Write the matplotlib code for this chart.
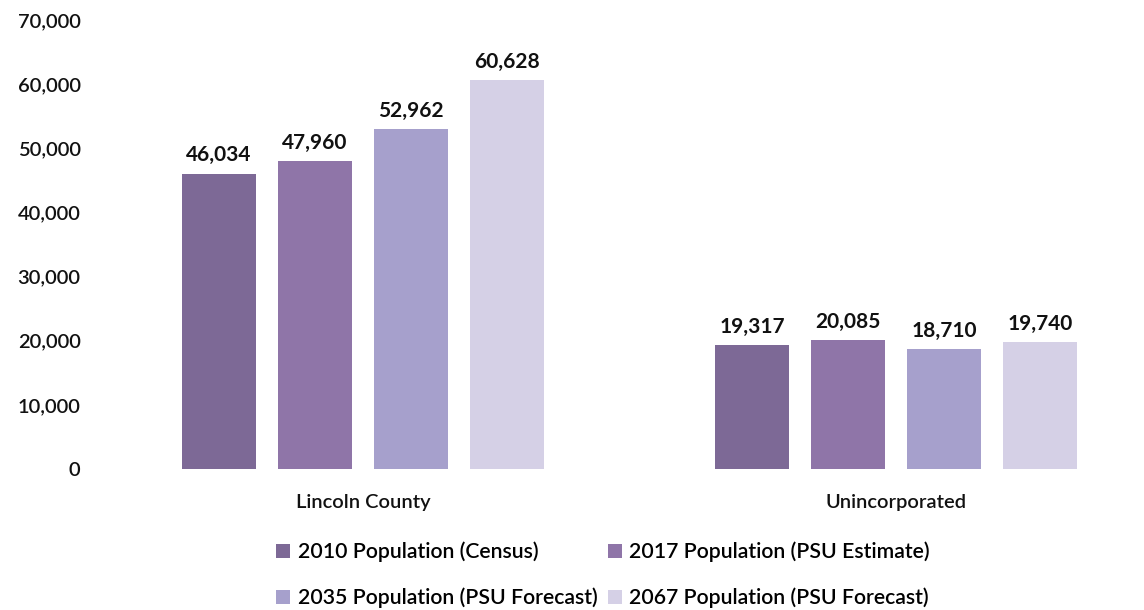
import matplotlib
matplotlib.use("Agg")
import matplotlib.pyplot as plt
from matplotlib.ticker import FuncFormatter
import numpy as np

# data
groups = ["Lincoln County", "Unincorporated"]
series = [
    "2010 Population (Census)",
    "2017 Population (PSU Estimate)",
    "2035 Population (PSU Forecast)",
    "2067 Population (PSU Forecast)",
]
lincoln = [46034, 47960, 52962, 60628]
unincorporated = [19317, 20085, 18710, 19740]
colors = ["#7d6996", "#8f75a8", "#a6a0cc", "#d5d0e6"]

plt.rcParams["font.family"] = ["Lato", "DejaVu Sans"]

fig = plt.figure(figsize=(11.44, 6.10), dpi=100)
ax = fig.add_axes([100 / 1144, 141 / 610, 1010 / 1144, 449 / 610])

x = np.arange(len(groups))
step = 96 / 533
width = 74 / 533
values = np.array([lincoln, unincorporated])

handles = []
for j, name in enumerate(series):
    pos = x + (j - 1.5) * step
    bars = ax.bar(pos, values[:, j], width, color=colors[j], label=name,
                  edgecolor="none")
    handles.append(bars)
    for b, v in zip(bars, values[:, j]):
        ax.annotate(f"{v:,}", (b.get_x() + b.get_width() / 2, v),
                    xytext=(0, 6), textcoords="offset points",
                    ha="center", va="bottom", fontsize=15,
                    fontweight="bold", color="#111111")

ax.set_xlim((100 - 363) / 533, (1110 - 363) / 533)
ax.set_ylim(0, 70000)
ax.set_yticks(np.arange(0, 70001, 10000))
ax.yaxis.set_major_formatter(FuncFormatter(lambda v, p: f"{int(v):,}"))
ax.set_xticks(x)
ax.set_xticklabels(groups)
ax.tick_params(axis="both", length=0, labelsize=14.5, colors="#111111")
ax.tick_params(axis="y", pad=14)
ax.tick_params(axis="x", pad=18)
for lab in ax.get_yticklabels() + ax.get_xticklabels():
    lab.set_fontweight("semibold")
for s in ax.spines.values():
    s.set_visible(False)

# row-wise legend order: 2010, 2017 / 2035, 2067
order = [0, 2, 1, 3]
fig.legend([handles[i] for i in order], [series[i] for i in order],
           loc="center", bbox_to_anchor=(603 / 1144, 1 - 575 / 610), ncol=2,
           frameon=False, handlelength=0.65, handleheight=0.65,
           handletextpad=0.35, columnspacing=0.5, labelspacing=1.2,
           prop={"weight": "semibold", "size": 15.3})

fig.savefig("out.png", dpi=100, facecolor="white")
